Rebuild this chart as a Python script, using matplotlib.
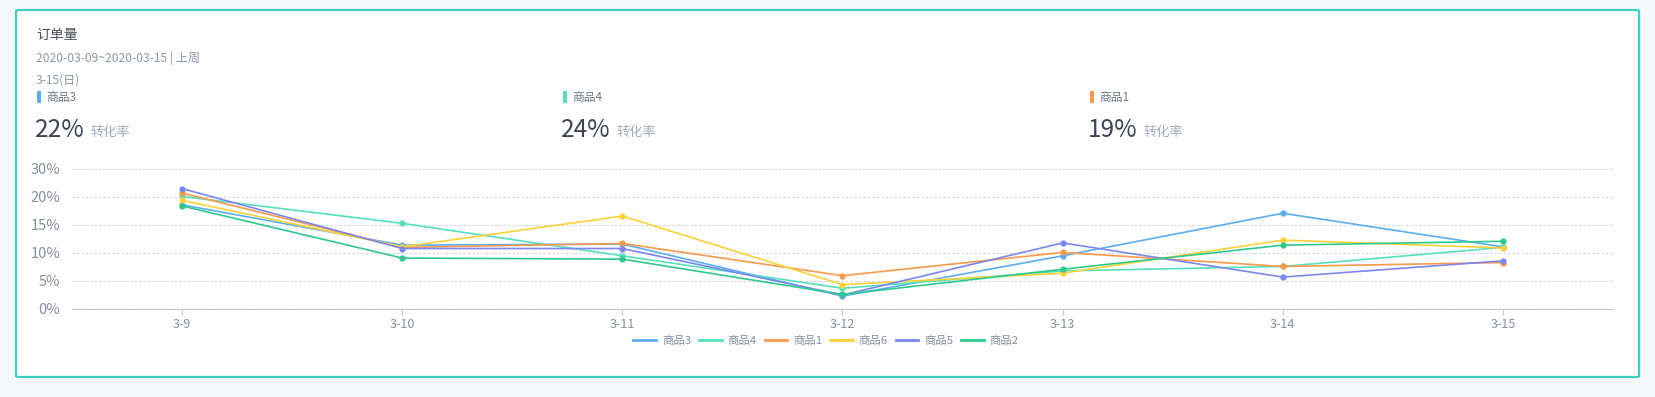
import matplotlib
matplotlib.use("Agg")
import matplotlib.pyplot as plt
from matplotlib.patches import FancyBboxPatch, Rectangle
from matplotlib.lines import Line2D

plt.rcParams['font.family'] = ['Noto Sans CJK SC', 'DejaVu Sans']

# ---- data ----
categories = ['3-9', '3-10', '3-11', '3-12', '3-13', '3-14', '3-15']
series_names = ['商品3', '商品4', '商品1', '商品6', '商品5', '商品2']
s3 = [18.6, 11.4, 11.6, 2.3, 9.5, 17.1, 11.1]
s4 = [20.1, 15.3, 9.5, 3.7, 6.8, 7.6, 11.0]
s1 = [20.7, 11.0, 11.7, 5.95, 10.1, 7.6, 8.3]
s6 = [19.4, 11.1, 16.6, 4.35, 6.4, 12.3, 10.9]
s5 = [21.5, 10.8, 10.8, 2.5, 11.8, 5.7, 8.6]
s2 = [18.4, 9.1, 8.9, 2.6, 7.1, 11.4, 12.1]
series_values = [s3, s4, s1, s6, s5, s2]
colors = ['#5aaef2', '#56e0bd', '#f8994b', '#fbd138', '#7b87ee', '#2ec98d']
y_ticks = [0, 5, 10, 15, 20, 25]
y_tick_labels = ['0%', '5%', '10%', '15%', '20%', '30%']

title = '订单量'
date_line = '2020-03-09~2020-03-15 | 上周'
day_label = '3-15(日)'
kpi_names = ['商品3', '商品4', '商品1']
kpi_values = ['22%', '24%', '19%']
kpi_colors = ['#5aaef2', '#56e0bd', '#f8994b']
kpi_unit = '转化率'

W, H = 1656, 397
fig = plt.figure(figsize=(W / 100, H / 100), dpi=100)
fig.patch.set_facecolor('#f5f7f9')

def fx(x):
    return x / W

def fy(y):
    return 1 - y / H

# card
card = FancyBboxPatch((fx(16), fy(377)), fx(1639) - fx(16), fy(10) - fy(377),
                      boxstyle='round,pad=0,rounding_size=0.002',
                      transform=fig.transFigure, facecolor='white',
                      edgecolor='#3dd0c1', linewidth=1.6, zorder=-5)
fig.patches.append(card)

fig.text(fx(36), fy(35), title, fontsize=10, color='#4a4f5c', va='center', ha='left')
fig.text(fx(36), fy(58), date_line, fontsize=8.7, color='#8e97a8', va='center', ha='left')
fig.text(fx(36), fy(80), day_label, fontsize=8.7, color='#8e97a8', va='center', ha='left')

kpi_x = [37, 563, 1090]
for x0, name, val, c in zip(kpi_x, kpi_names, kpi_values, kpi_colors):
    fig.patches.append(Rectangle((fx(x0), fy(103)), fx(4), fy(91) - fy(103),
                                 transform=fig.transFigure, facecolor=c, edgecolor='none'))
    fig.text(fx(x0 + 9), fy(97.5), name, fontsize=8.5, color='#6e7687', va='center', ha='left')
    t = fig.text(fx(x0 - 2), fy(130), val, fontsize=17.5, color='#3c4354', va='center', ha='left')
    fig.canvas.draw()
    bb = t.get_window_extent()
    fig.text(bb.x1 / W + fx(6), fy(132), kpi_unit, fontsize=9.5, color='#a3adc2', va='center', ha='left')

# chart
ax = fig.add_axes([fx(72), fy(309), fx(1613) - fx(72), fy(169) - fy(309)])
ax.set_zorder(3)
ax.set_facecolor('none')
x = list(range(len(categories)))
for name, vals, c in zip(series_names, series_values, colors):
    ax.plot(x, vals, color=c, lw=1.2, marker='o', markersize=3.5, label=name)

ax.set_xlim(-0.5, len(categories) - 0.5)
ax.set_ylim(0, 25)
ax.set_yticks(y_ticks)
ax.set_yticklabels(y_tick_labels)
ax.set_xticks(x)
ax.set_xticklabels(categories)
for s in ['top', 'right', 'left']:
    ax.spines[s].set_visible(False)
ax.spines['bottom'].set_color('#c6c9cf')
ax.tick_params(axis='y', length=0, labelsize=10.5, labelcolor='#858ea0', pad=8.5)
ax.tick_params(axis='x', length=4, color='#c6c9cf', labelsize=9, labelcolor='#858ea0', pad=2.5)
ax.yaxis.grid(True, linestyle=(0, (2, 2)), color='#cfd2d6', lw=0.8)
ax.set_axisbelow(True)

handles = [Line2D([0], [0], color=c, lw=2) for c in colors]
leg = fig.legend(handles, series_names, loc='center', bbox_to_anchor=(fx(826), fy(341)),
                 ncol=6, frameon=False, fontsize=8.2, labelcolor='#858ea0',
                 handlelength=2.0, handletextpad=0.5, columnspacing=0.7)
leg.set_zorder(4)

fig.savefig('out.png', dpi=100, facecolor=fig.get_facecolor())
